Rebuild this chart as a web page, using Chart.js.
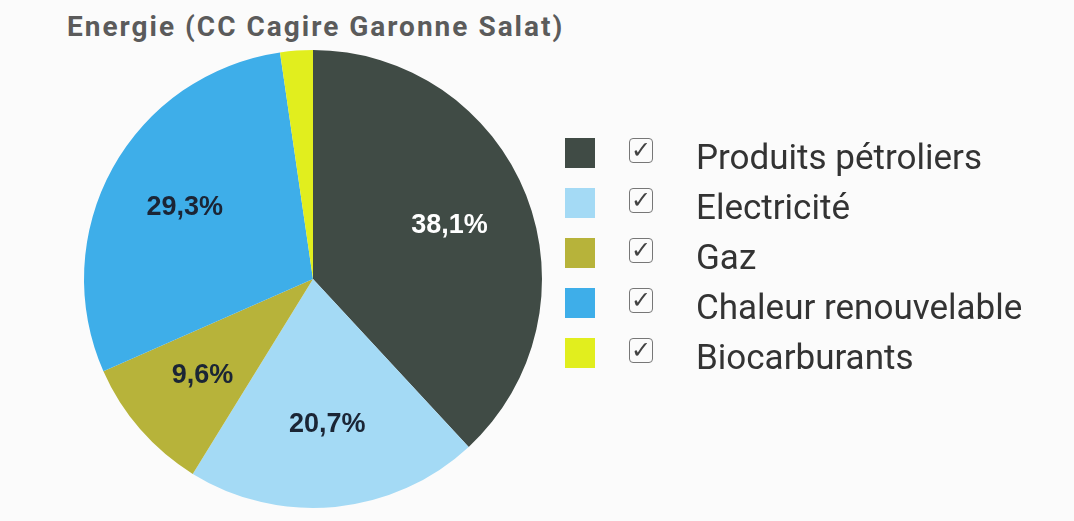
<!DOCTYPE html>
<html lang="fr">
<head>
<meta charset="utf-8">
<script src="https://cdn.jsdelivr.net/npm/chart.js@4"></script>
<style>
    body { margin: 0; width: 1074px; height: 521px; background: #fbfbfb; overflow: hidden; position: relative; font-family: Roboto, sans-serif; }
    #title { position: absolute; left: 67px; top: 10px; font-size: 28px; letter-spacing: 2px; font-weight: bold; color: #5b5b5b; }
    #chartBox { position: absolute; left: 0; top: 0; width: 1074px; height: 521px; }
    #legend { position: absolute; left: 565px; top: 138px; }
    .row { height: 50px; display: flex; align-items: flex-start; }
    .swatch { width: 30px; height: 30px; }
    .check { width: 22px; height: 23px; margin-left: 34px; border: 1.5px solid #777; border-radius: 4px; font-size: 24px; line-height: 23px; text-align: center; color: #444; }
    .label { margin-left: 43px; font-size: 35px; line-height: 35px; color: #333; margin-top: 2px; }
</style>
</head>
<body>
<div id="title">Energie (CC Cagire Garonne Salat)</div>
<div id="chartBox"><canvas id="energyChart"></canvas></div>
<div id="legend"></div>
<script>
const categories = ['Produits pétroliers', 'Electricité', 'Gaz', 'Chaleur renouvelable', 'Biocarburants'];
const shares = [38.1, 20.7, 9.6, 29.3, 2.3];
const sliceColors = ['#404b45', '#a4daf5', '#b7b33a', '#3eaee9', '#e1ee1e'];
const labelColors = ['#ffffff', '#1b2535', '#1b2535', '#1b2535', '#1b2535'];

// percentage labels inside the slices (small slices get none)
const sliceLabels = {
    id: 'sliceLabels',
    afterDatasetsDraw(chart) {
        const ctx = chart.ctx;
        const arcs = chart.getDatasetMeta(0).data;
        ctx.save();
        ctx.font = 'bold 27px "Liberation Sans", Arial, sans-serif';
        ctx.textAlign = 'center';
        ctx.textBaseline = 'middle';
        arcs.forEach((arc, i) => {
            if (shares[i] < 5) return;
            const p = arc.getProps(['x', 'y', 'startAngle', 'endAngle', 'outerRadius']);
            const mid = (p.startAngle + p.endAngle) / 2;
            const r = p.outerRadius * 0.64;
            ctx.fillStyle = labelColors[i];
            ctx.fillText(shares[i].toFixed(1).replace('.', ',') + '%', p.x + Math.cos(mid) * r, p.y + Math.sin(mid) * r);
        });
        ctx.restore();
    }
};

const buildLegend = () => {
    const legend = document.getElementById('legend');
    categories.forEach((name, i) => {
        const row = document.createElement('div');
        row.className = 'row';
        row.innerHTML = `<div class="swatch" style="background:${sliceColors[i]}"></div><div class="check">&#10003;</div><div class="label">${name}</div>`;
        legend.appendChild(row);
    });
};

window.onload = () => {
    buildLegend();
    new Chart(document.getElementById('energyChart'), {
        type: 'pie',
        data: {
            labels: categories,
            datasets: [{
                data: shares,
                backgroundColor: sliceColors,
                borderWidth: 0
            }]
        },
        options: {
            responsive: true,
            maintainAspectRatio: false,
            animation: false,
            layout: { padding: { left: 84, top: 50, right: 532, bottom: 13 } },
            plugins: {
                legend: { display: false },
                tooltip: { enabled: false }
            }
        },
        plugins: [sliceLabels]
    });
};
</script>
</body>
</html>
